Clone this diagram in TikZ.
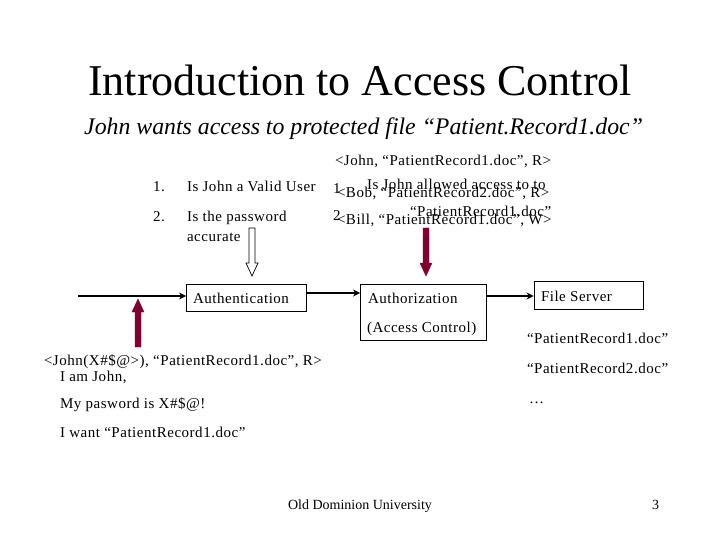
\documentclass[tikz,border=0pt]{standalone}
\usepackage{fontspec}
\usetikzlibrary{arrows.meta}
\setmainfont{Liberation Serif}
\newfontfamily\bodyfont[LetterSpace=3.5]{Liberation Serif}
\definecolor{wine}{HTML}{800032}
\tikzset{
  x=1pt,y=-1pt,
  txt/.style={anchor=base west,inner sep=0pt,outer sep=0pt,font=\bodyfont\fontsize{15}{17}\selectfont},
  foottxt/.style={anchor=base west,inner sep=0pt,outer sep=0pt,font=\fontsize{14}{16}\selectfont},
  titletxt/.style={anchor=base west,inner sep=0pt,font=\fontsize{44}{50}\selectfont},
  subtxt/.style={anchor=base west,inner sep=0pt,font=\itshape\fontsize{23.8}{28}\selectfont},
  boxed/.style={draw=black,line width=0.9pt,minimum width=0pt,inner sep=0pt,fill=white},
  link/.style={draw=black,line width=1.8pt,-{Stealth[length=7pt,width=7pt]}},
  redarrow/.style={fill=wine,draw=wine,line width=0.4pt},
  whitearrow/.style={fill=white,draw=black,line width=0.7pt},
}
\begin{document}
\begin{tikzpicture}
\useasboundingbox (0,0) rectangle (720,540);
\fill[white] (0,0) rectangle (720,540);
\node[titletxt] (title) at (88,96) {Introduction to Access Control};
\node[subtxt] (sub) at (84,135) {John wants access to protected file “Patient.Record1.doc”};
\node[txt] (acl1) at (335,166) {<John, “PatientRecord1.doc”, R>};
\node[txt] (n1) at (153,192) {1.};
\node[txt] (q1) at (187,192) {Is John a Valid User};
\node[txt] (m1) at (333,194) {1};
\node[txt] (acl2) at (337,198) {<Bob, “PatientRecord2.doc”, R>};
\node[txt] (q3) at (367,190) {Is John allowed access to to};
\node[txt] (n2) at (153,222) {2.};
\node[txt] (q2) at (187,222) {Is the password};
\node[txt] (q2b) at (187,241) {accurate};
\node[txt] (m2) at (333,221) {2};
\node[txt] (q4) at (410,216) {“PatientRecord1.doc”};
\node[txt] (acl3) at (337,225) {<Bill, “PatientRecord1.doc”, W>};
\node[boxed,minimum width=120pt,minimum height=27pt] (auth) at (246.5,297.5) {};
\node[txt] (authl) at (193,303) {Authentication};
\node[boxed,minimum width=126pt,minimum height=56pt] (authz) at (423.5,312) {};
\node[txt] (authzl) at (368,303) {Authorization};
\node[txt] (authzm) at (367,332) {(Access Control)};
\node[boxed,minimum width=109pt,minimum height=28pt] (fs) at (588.5,295) {};
\node[txt] (fsl) at (541,301) {File Server};
\node[txt] (f1) at (527,343) {“PatientRecord1.doc”};
\node[txt] (f2) at (527,373) {“PatientRecord2.doc”};
\node[txt] (f3) at (529,403) {…};
\node[txt] (req) at (44,365) {<John(X\#\$@>), “PatientRecord1.doc”, R>};
\node[txt] (s1) at (60,381) {I am John,};
\node[txt] (s2) at (60,408) {My pasword is X\#\$@!};
\node[txt] (s3) at (60,437) {I want “PatientRecord1.doc”};
\node[foottxt] (foot) at (288,509) {Old Dominion University};
\node[foottxt] (page) at (652,509) {3};
\coordinate (start) at (78,296);
\coordinate (a) at (auth.east |- 0,293);
\coordinate (b) at (authz.east |- 0,296);
\draw[link] (start) -- (start -| auth.west);
\draw[link] (a) -- (a -| authz.west);
\draw[link] (b) -- (b -| fs.west);
\draw[redarrow] (135,347) -- (135,312) -- (132,312) -- (138,299) -- (144,312) -- (141,312) -- (141,347) -- cycle;
\draw[redarrow] (423,228) -- (423,263) -- (420,263) -- (426,276) -- (432,263) -- (429,263) -- (429,228) -- cycle;
\draw[whitearrow] (249,228) -- (249,263) -- (246,263) -- (252,276) -- (258,263) -- (255,263) -- (255,228) -- cycle;
\end{tikzpicture}
\end{document}
